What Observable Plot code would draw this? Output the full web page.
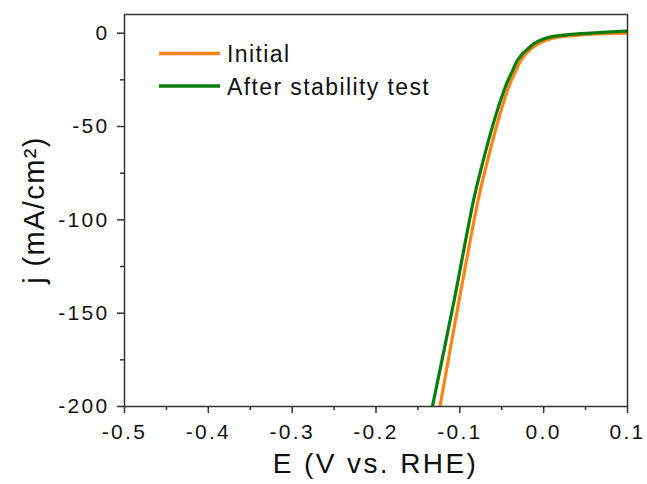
<!DOCTYPE html>
<html>
<head>
<meta charset="utf-8">
<script src="https://cdn.jsdelivr.net/npm/d3@7"></script>
<script src="https://cdn.jsdelivr.net/npm/@observablehq/plot@0.6"></script>
<style>
  html, body { margin: 0; padding: 0; background: #fff; }
  #chart svg { display: block; }
</style>
</head>
<body>
<div id="chart"></div>
<script>
// ---- data ----
const E_initial = [-0.1237, -0.1010, -0.0783, -0.0700, -0.0544, -0.0420, -0.0332, -0.0270, -0.0195, -0.0150, -0.0070, 0.0040, 0.0166, 0.0444, 0.0700, 0.0980, 0.1000];
const j_initial = [-200, -143.4, -89.8, -73.8, -47.0, -29.1, -20.2, -14.5, -10.2, -8.3, -5.8, -3.6, -2.2, -0.9, -0.3, 0.0, 0.0];
const E_after = [-0.1327, -0.1069, -0.0838, -0.0753, -0.0591, -0.0460, -0.0372, -0.0312, -0.0233, -0.0193, -0.0114, 0.0006, 0.0086, 0.0166, 0.0444, 0.0700, 0.0980, 0.1000];
const j_after = [-200, -143.4, -89.8, -73.8, -47.0, -29.1, -20.2, -14.5, -10.2, -8.6, -5.6, -3.0, -2.0, -1.45, -0.2, 0.4, 1.1, 1.15];

const seriesNames = ["Initial", "After stability test"];
const seriesColors = ["#ff8214", "#0a7d0a"];

const xMajor = [-0.5, -0.4, -0.3, -0.2, -0.1, 0.0, 0.1];
const xMinor = [-0.45, -0.35, -0.25, -0.15, -0.05, 0.05];
const yMajor = [0, -50, -100, -150, -200];
const yMinor = [-25, -75, -125, -175];
const xTitle = "E (V vs. RHE)";
const yTitle = "j (mA/cm²)";

const initial = E_initial.map((e, i) => ({E: e, j: j_initial[i]}));
const after = E_after.map((e, i) => ({E: e, j: j_after[i]}));

const W = 647, H = 484;
const mL = 124, mR = 20, mT = 14, mB = 78;
const axisColor = "#333";

const plot = Plot.plot({
  width: W,
  height: H,
  marginLeft: mL,
  marginRight: mR,
  marginTop: mT,
  marginBottom: mB,
  style: {fontFamily: "'Liberation Sans', Arial, sans-serif", fontSize: "21px", color: "#111", background: "#fff"},
  x: {domain: [-0.5, 0.1]},
  y: {domain: [-200, 10]},
  marks: [
    Plot.line(initial, {x: "E", y: "j", stroke: seriesColors[0], strokeWidth: 3.2, curve: "catmull-rom", clip: true}),
    Plot.line(after, {x: "E", y: "j", stroke: seriesColors[1], strokeWidth: 3.2, curve: "catmull-rom", clip: true}),
    Plot.axisX({ticks: xMinor, tickSize: 4, text: null, label: null, stroke: axisColor, strokeWidth: 1.5}),
    Plot.axisX({ticks: xMajor, tickSize: 7, tickPadding: 11, label: null, stroke: axisColor, strokeWidth: 1.5, fill: "#111",
      tickFormat: d => d.toFixed(1)}),
    Plot.axisY({ticks: yMinor, tickSize: 4, text: null, label: null, stroke: axisColor, strokeWidth: 1.5}),
    Plot.axisY({ticks: yMajor, tickSize: 7, tickPadding: 8, label: null, stroke: axisColor, strokeWidth: 1.5, fill: "#111",
      tickFormat: d => String(d)}),
    Plot.frame({stroke: axisColor, strokeWidth: 1.5})
  ]
});

document.getElementById("chart").appendChild(plot);

const svg = d3.select(plot);
svg.selectAll("text").style("letter-spacing", "2.3px");

// axis titles
svg.append("text")
  .attr("x", (mL + (W - mR)) / 2)
  .attr("y", 472.5)
  .attr("text-anchor", "middle")
  .style("font-size", "28px")
  .style("letter-spacing", "2.4px")
  .attr("fill", "#111")
  .text(xTitle);

svg.append("text")
  .attr("transform", `translate(44, ${(mT + (H - mB)) / 2}) rotate(-90)`)
  .attr("text-anchor", "middle")
  .style("font-size", "29px")
  .style("letter-spacing", "1.4px")
  .attr("fill", "#111")
  .text(yTitle);

// legend
const legend = svg.append("g").attr("text-anchor", "start");
const legY = [53.5, 86];
seriesNames.forEach((name, i) => {
  legend.append("line")
    .attr("x1", 159).attr("x2", 220)
    .attr("y1", legY[i]).attr("y2", legY[i])
    .attr("stroke", seriesColors[i]).attr("stroke-width", 3.4);
  legend.append("text")
    .attr("x", 227).attr("y", legY[i] + 8.5)
    .attr("text-anchor", "start")
    .style("font-size", "23px")
    .style("letter-spacing", "1.4px")
    .attr("fill", "#111")
    .text(name);
});
</script>
</body>
</html>
